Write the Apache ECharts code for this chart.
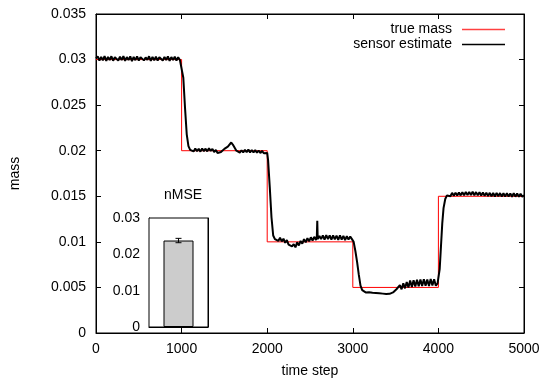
<!DOCTYPE html>
<html>
<head>
<meta charset="utf-8">
<script src="https://cdn.jsdelivr.net/npm/echarts@6/dist/echarts.min.js"></script>
<style>
html,body{margin:0;padding:0;background:#fff;}
#chart{width:543px;height:383px;}
</style>
</head>
<body>
<div id="chart"></div>
<script>
// ---- data ----
var trueSteps = [0, 1000, 1000, 2000, 2000, 3000, 3000, 4000, 4000, 5000];
var trueMass  = [0.03, 0.03, 0.02, 0.02, 0.01, 0.01, 0.005, 0.005, 0.015, 0.015];

var estSteps = [
  0,20,40,60,80,100,120,140,160,180,200,220,240,260,280,300,320,340,360,380,
  400,420,440,460,480,500,520,540,560,580,600,620,640,660,680,700,720,740,760,780,
  800,820,840,860,880,900,920,940,960,980,1000,
  1020,1040,1060,1080,1100,
  1120,1140,1160,1180,1200,1220,1240,1260,1280,1300,1320,1340,1360,1380,1400,1420,1440,1460,1480,1500,
  1520,1540,1560,1580,1600,1620,1640,1660,1680,1700,1720,1740,1760,1780,1800,1820,1840,1860,1880,1900,
  1920,1940,1960,1980,2000,
  2010,2030,2050,2070,2090,
  2110,2130,2150,2170,2190,2210,2230,2250,2270,2290,2310,2330,2350,2370,2390,2410,2430,2450,2470,2490,
  2510,2530,2550,2570,2580,2585,2590,2610,2630,2650,2670,2690,2710,2730,2750,2770,2790,2810,2830,2850,
  2870,2890,2910,2930,2950,2970,2990,
  3010,3030,3050,3070,3090,3110,3130,
  3150,3170,3190,3210,3230,3250,3270,3290,3310,3330,3350,3370,3390,3410,3430,3450,3470,3490,3510,3530,
  3550,3570,3590,3610,3630,3650,3670,3690,3710,3730,3750,3770,3790,3810,3830,3850,3870,3890,3910,3930,
  3950,3970,3990,
  4005,4015,4030,4045,4060,4080,4100,
  4120,4140,4160,4180,4200,4220,4240,4260,4280,4300,4320,4340,4360,4380,4400,4420,4440,4460,4480,4500,
  4520,4540,4560,4580,4600,4620,4640,4660,4680,4700,4720,4740,4760,4780,4800,4820,4840,4860,4880,4900,
  4920,4940,4960,4980,5000
];
var estMass = [
  0.03012,0.03035,0.02988,0.03030,0.02992,0.03038,0.02985,0.03028,0.02995,0.03036,
  0.02987,0.03025,0.03033,0.02990,0.03031,0.02994,0.03037,0.02986,0.03027,0.02996,
  0.03034,0.02984,0.03029,0.02993,0.03035,0.02989,0.03026,0.03038,0.02991,0.03024,
  0.02997,0.03036,0.02985,0.03030,0.02992,0.03033,0.02988,0.03026,0.03032,0.02990,
  0.03029,0.02995,0.03035,0.02986,0.03027,0.02994,0.03031,0.02989,0.03025,0.02996,0.03010,
  0.0280,0.0247,0.0218,0.0205,0.0201,
  0.02022,0.01992,0.02025,0.01995,0.02020,0.01990,0.02024,0.01996,0.02022,0.01993,
  0.02026,0.01998,0.02020,0.01985,0.02008,0.01975,0.01960,0.01985,0.01990,0.02020,
  0.02012,0.02045,0.02055,0.02090,0.02065,0.02050,0.02000,0.02010,0.01980,0.02005,
  0.01982,0.02010,0.01985,0.02012,0.01982,0.02008,0.01980,0.02006,0.01978,0.02002,
  0.01975,0.01998,0.01972,0.01990,0.01975,
  0.0190,0.0160,0.0127,0.0107,0.0103,
  0.01040,0.01010,0.01045,0.01005,0.01035,0.00990,0.01020,0.00970,0.00990,0.00950,
  0.00975,0.00940,0.00995,0.00960,0.01010,0.00980,0.01030,0.00995,0.01040,0.01005,
  0.01050,0.01015,0.01055,0.01020,0.01058,0.01230,0.01030,0.01065,0.01030,0.01070,
  0.01025,0.01075,0.01030,0.01072,0.01025,0.01070,0.01028,0.01068,0.01022,0.01070,
  0.01025,0.01066,0.01020,0.01062,0.01025,0.01058,0.01030,
  0.0100,0.0090,0.0078,0.0064,0.0052,0.0047,0.0045,
  0.00445,0.00432,0.00448,0.00430,0.00442,0.00428,0.00440,0.00425,0.00436,0.00422,
  0.00432,0.00418,0.00428,0.00415,0.00430,0.00420,0.00445,0.00440,0.00480,0.00470,
  0.00525,0.00480,0.00545,0.00490,0.00560,0.00500,0.00575,0.00505,0.00580,0.00510,
  0.00585,0.00512,0.00588,0.00515,0.00590,0.00518,0.00586,0.00515,0.00592,0.00520,
  0.00590,0.00518,0.00545,
  0.0055,0.0070,0.0095,0.0120,0.0137,0.0147,0.0151,
  0.01530,0.01500,0.01538,0.01505,0.01540,0.01508,0.01542,0.01510,0.01545,0.01512,
  0.01546,0.01515,0.01548,0.01515,0.01550,0.01512,0.01546,0.01510,0.01544,0.01508,
  0.01542,0.01505,0.01540,0.01502,0.01538,0.01500,0.01536,0.01498,0.01538,0.01500,
  0.01535,0.01498,0.01534,0.01496,0.01535,0.01497,0.01532,0.01495,0.01534,0.01496,
  0.01530,0.01494,0.01528,0.01495,0.01512
];

var xTickLabels = ['0', '1000', '2000', '3000', '4000', '5000'];
var yTickLabels = ['0', '0.005', '0.01', '0.015', '0.02', '0.025', '0.03', '0.035'];

var insetCategories = ['nMSE'];
var insetValues = [0.0238];
var insetErrors = [0.0006];
var insetTickLabels = ['0', '0.01', '0.02', '0.03'];

// ---- build ----
function pairs(xs, ys) { return xs.map(function (x, i) { return [x, ys[i]]; }); }

var FONT = 'Liberation Sans, Arial, sans-serif';
var tickStyle = { show: true, inside: true, length: 5, lineStyle: { color: '#000', width: 1 } };

var chart = echarts.init(document.getElementById('chart'), null, { renderer: 'canvas' });
chart.setOption({
  animation: false,
  backgroundColor: '#fff',
  textStyle: { fontFamily: FONT, color: '#000' },
  title: {
    text: 'nMSE', left: 178, top: 183, textAlign: 'center',
    textStyle: { fontFamily: FONT, fontSize: 14, fontWeight: 'normal', color: '#000' }
  },
  legend: {
    data: [
      { name: 'true mass', icon: 'rect', itemStyle: { color: '#ff4040' } },
      { name: 'sensor estimate', icon: 'rect', itemStyle: { color: '#000' } }
    ],
    orient: 'vertical', align: 'right',
    right: 33, top: 17,
    itemWidth: 43, itemHeight: 1.5, itemGap: 0,
    textStyle: { fontFamily: FONT, fontSize: 14, color: '#000', padding: [0, 5, 0, 0], lineHeight: 15 }
  },
  grid: [
    { left: 95, right: 19, top: 14, bottom: 49, show: true, borderColor: '#000', borderWidth: 1, backgroundColor: 'transparent' },
    { left: 149, right: 335, top: 218, bottom: 56, show: true, borderColor: '#000', borderWidth: 1, backgroundColor: '#fff', z: 5 }
  ],
  xAxis: [
    { type: 'value', gridIndex: 0, min: 0, max: 5000, interval: 1000, position: 'bottom',
      axisLine: { show: true, onZero: false, lineStyle: { color: '#000', width: 1 } },
      axisTick: tickStyle, splitLine: { show: false },
      axisLabel: { fontFamily: FONT, fontSize: 14, color: '#000', margin: 9,
        formatter: function (v) { return xTickLabels[Math.round(v / 1000)]; } },
      name: 'time step', nameLocation: 'middle', nameGap: 31,
      nameTextStyle: { fontFamily: FONT, fontSize: 14, color: '#000' } },
    { type: 'value', gridIndex: 0, min: 0, max: 5000, interval: 1000, position: 'top',
      axisLine: { show: true, onZero: false, lineStyle: { color: '#000', width: 1 } },
      axisTick: tickStyle, splitLine: { show: false }, axisLabel: { show: false } },
    { type: 'category', gridIndex: 1, data: insetCategories,
      axisLine: { show: true, onZero: false, lineStyle: { color: '#000', width: 1 } },
      axisTick: { show: false }, axisLabel: { show: false }, splitLine: { show: false } }
  ],
  yAxis: [
    { type: 'value', gridIndex: 0, min: 0, max: 0.035, interval: 0.005, position: 'left',
      axisLine: { show: true, onZero: false, lineStyle: { color: '#000', width: 1 } },
      axisTick: tickStyle, splitLine: { show: false },
      axisLabel: { fontFamily: FONT, fontSize: 14, color: '#000', margin: 10,
        formatter: function (v) { return yTickLabels[Math.round(v / 0.005)]; } },
      name: 'mass', nameLocation: 'middle', nameGap: 74, nameRotate: 90,
      nameTextStyle: { fontFamily: FONT, fontSize: 14, color: '#000' } },
    { type: 'value', gridIndex: 0, min: 0, max: 0.035, interval: 0.005, position: 'right',
      axisLine: { show: true, onZero: false, lineStyle: { color: '#000', width: 1 } },
      axisTick: tickStyle, splitLine: { show: false }, axisLabel: { show: false } },
    { type: 'value', gridIndex: 1, min: 0, max: 0.03, interval: 0.01, position: 'left',
      axisLine: { show: true, onZero: false, lineStyle: { color: '#000', width: 1 } },
      axisTick: tickStyle, splitLine: { show: false },
      axisLabel: { fontFamily: FONT, fontSize: 14, color: '#000', margin: 9,
        formatter: function (v) { return insetTickLabels[Math.round(v / 0.01)]; } } },
    { type: 'value', gridIndex: 1, min: 0, max: 0.03, interval: 0.01, position: 'right',
      axisLine: { show: true, onZero: false, lineStyle: { color: '#000', width: 1 } },
      axisTick: tickStyle, splitLine: { show: false }, axisLabel: { show: false } }
  ],
  series: [
    { name: 'true mass', type: 'line', xAxisIndex: 0, yAxisIndex: 0,
      data: pairs(trueSteps, trueMass), symbol: 'none', showSymbol: false,
      lineStyle: { color: '#ff0000', width: 1 }, itemStyle: { color: '#ff0000' }, z: 2 },
    { name: 'sensor estimate', type: 'line', xAxisIndex: 0, yAxisIndex: 0,
      data: pairs(estSteps, estMass), symbol: 'none', showSymbol: false,
      lineStyle: { color: '#000', width: 2 }, itemStyle: { color: '#000' }, z: 3 },
    { name: 'nMSE', type: 'bar', xAxisIndex: 2, yAxisIndex: 2,
      data: insetValues, barWidth: 30,
      itemStyle: { color: '#cccccc', borderColor: '#000', borderWidth: 1 }, z: 6 },
    { name: 'nMSE error', type: 'custom', xAxisIndex: 2, yAxisIndex: 2, z: 7,
      data: insetValues.map(function (v, i) { return [i, v - insetErrors[i], v + insetErrors[i]]; }),
      renderItem: function (params, api) {
        var lo = api.coord([api.value(0), api.value(1)]);
        var hi = api.coord([api.value(0), api.value(2)]);
        var w = 3;
        var st = { stroke: '#000', lineWidth: 1 };
        return { type: 'group', children: [
          { type: 'line', shape: { x1: lo[0], y1: lo[1], x2: hi[0], y2: hi[1] }, style: st },
          { type: 'line', shape: { x1: lo[0] - w, y1: lo[1], x2: lo[0] + w, y2: lo[1] }, style: st },
          { type: 'line', shape: { x1: hi[0] - w, y1: hi[1], x2: hi[0] + w, y2: hi[1] }, style: st }
        ] };
      } }
  ]
});
</script>
</body>
</html>
